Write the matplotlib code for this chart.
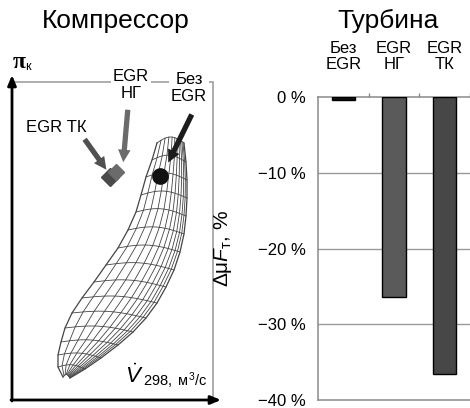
import numpy as np
import matplotlib
matplotlib.use("Agg")
import matplotlib.pyplot as plt
from matplotlib.patches import FancyArrowPatch, Rectangle
import matplotlib.transforms as mtransforms

plt.rcParams['font.family'] = ['Liberation Sans', 'DejaVu Sans']
plt.rcParams['mathtext.fontset'] = 'custom'
plt.rcParams['mathtext.rm'] = 'Liberation Sans'
plt.rcParams['mathtext.it'] = 'Liberation Sans:italic'

# ---- turbine bar data (%)
categories = ['Без\nEGR', 'EGR\nНГ', 'EGR\nТК']
dmuF = [-0.3, -26.4, -36.6]
bar_colors = ['#111111', '#5a5a5a', '#474747']
yticks = [0, -10, -20, -30, -40]
ytick_labels = ['0 %', '\u221210 %', '\u221220 %', '\u221230 %', '\u221240 %']

# ---- compressor map (schematic units: V flow -> x, pi_k -> y)
# surge side and choke side of the map, one pair per speed line
surge_x = [145, 140, 134, 129, 124, 116, 106, 94, 82, 70, 60, 53, 49, 46, 46, 51]
surge_y = [257, 240, 223, 205, 188, 170, 152, 135, 118, 102, 87, 72, 58, 45, 33, 23]
choke_x = [172, 174, 175, 175, 174, 172, 168, 162, 154, 145, 134, 121, 106, 89, 73, 58]
choke_y = [257, 238, 220, 202, 184, 166, 148, 130, 113, 97, 82, 68, 55, 42, 31, 22]
# relative position of the long lines across the map
long_s = [0.15, 0.3, 0.44, 0.56, 0.66, 0.74, 0.81, 0.87, 0.92, 0.96]

# operating points
op_names = ['Без EGR', 'EGR НГ', 'EGR ТК']
op_x = [148, 104, 98]
op_y = [224, 228, 223]

# arrows: (start, end)
arr_start = [(181, 288), (116, 293), (71, 263)]
arr_end = [(155, 235), (111, 235), (96, 228)]
arr_colors = ['#1c1c1c', '#6b6b6b', '#505050']

fig = plt.figure(figsize=(4.7, 4.08), dpi=100)

# ================= compressor =================
axL = fig.add_axes([0, 0, 240 / 470, 1])
axL.set_xlim(-12, 228)
axL.set_ylim(-8, 400)
axL.axis('off')

# frame
axL.add_patch(Rectangle((0, 0), 201, 318, fill=False, ec='#a0a0a0', lw=1.2, zorder=1))
# axes arrows
axL.annotate('', xy=(0, 325), xytext=(0, -1),
             arrowprops=dict(arrowstyle='-|>,head_width=0.25,head_length=0.6',
                             lw=2, color='black', shrinkA=0, shrinkB=0), zorder=5)
axL.annotate('', xy=(209, 0), xytext=(-1, 0),
             arrowprops=dict(arrowstyle='-|>,head_width=0.25,head_length=0.6',
                             lw=2, color='black', shrinkA=0, shrinkB=0), zorder=5)

sx = np.array(surge_x, float); sy = np.array(surge_y, float)
cx = np.array(choke_x, float); cy = np.array(choke_y, float)
s = np.linspace(0, 1, 25)
bulge = 6
# speed lines
for i in range(len(sx)):
    xs = sx[i] + s * (cx[i] - sx[i])
    ys = sy[i] + s * (cy[i] - sy[i]) + bulge * np.sin(np.pi * s) * (1 - i / 30)
    axL.plot(xs, ys, color='#444444', lw=0.6, zorder=2)
# long lines
for k in [0.0] + long_s + [1.0]:
    xs = sx + k * (cx - sx)
    ys = sy + k * (cy - sy) + bulge * np.sin(np.pi * k) * (1 - np.arange(len(sx)) / 30)
    lw = 0.9 if k in (0.0, 1.0) else 0.6
    axL.plot(xs, ys, color='#444444', lw=lw, zorder=2)

# operating points
axL.plot(op_x[2], op_y[2], marker='D', ms=9, color='#4a4a4a', zorder=4)
axL.plot(op_x[1], op_y[1], marker='D', ms=8, color='#6b6b6b', zorder=4)
axL.plot(op_x[0], op_y[0], marker='o', ms=11, color='#111111', zorder=4)

for (x0, y0), (x1, y1), c in zip(arr_start, arr_end, arr_colors):
    axL.add_patch(FancyArrowPatch((x0, y0), (x1, y1),
                                  arrowstyle='simple,head_length=0.9,head_width=0.9,tail_width=0.38',
                                  mutation_scale=10, color=c, lw=0, zorder=6))

lab_kw = dict(ha='center', va='center', fontsize=12, linespacing=1.1, zorder=7,
              bbox=dict(fc='white', ec='none', pad=1.5))
axL.text(44, 273, 'EGR ТК', **lab_kw)
axL.text(119, 315, 'EGR\nНГ', **lab_kw)
axL.text(177, 312, 'Без\nEGR', **lab_kw)

axL.text(1, 338, 'π', family='Liberation Serif', fontweight='bold', fontsize=17,
         ha='left', va='center')
axL.text(13, 333, 'к', fontsize=9, ha='left', va='center')

axL.text(113, 17, r'$\dot{V}$', fontsize=16, ha='left', va='baseline')
axL.text(131, 14, r'$\mathrm{298,\ м^{3}/с}$', fontsize=10.5, ha='left', va='baseline')

fig.text(116 / 470, 1 - 21 / 408, 'Компрессор', ha='center', va='center', fontsize=19)

# ================= turbine =================
axR = fig.add_axes([318 / 470, 8 / 408, 152 / 470, 302.5 / 408])
xpos = np.arange(len(categories))
axR.bar(xpos, dmuF, width=0.46, color=bar_colors, edgecolor='black', lw=1, zorder=3)
axR.set_xlim(-0.5, 2.5)
axR.set_ylim(-40, 0)
axR.set_yticks(yticks)
axR.set_yticklabels(ytick_labels, fontsize=12)
axR.tick_params(axis='y', length=0, pad=9)
for v in yticks[1:-1]:
    axR.axhline(v, color='#9a9a9a', lw=1, zorder=1)
axR.xaxis.set_ticks_position('top')
axR.set_xticks([0.5, 1.5, 2.5])
axR.set_xticklabels([])
axR.tick_params(axis='x', length=3, color='#8a8a8a', width=1)
for side in ['left', 'top', 'bottom']:
    axR.spines[side].set_color('#8a8a8a')
    axR.spines[side].set_linewidth(1.1)
axR.spines['right'].set_visible(False)

trans = mtransforms.blended_transform_factory(axR.transData, axR.transAxes)
for x, lab in zip(xpos, categories):
    axR.text(x, 1.135, lab, transform=trans, ha='center', va='center',
             fontsize=12, linespacing=1.1)

axR.set_ylabel('Δμ$F_{\\mathrm{т}}$, %', fontsize=15)
axR.yaxis.set_label_coords(-0.55, 0.5)

fig.text(388 / 470, 1 - 21 / 408, 'Турбина', ha='center', va='center', fontsize=19)

fig.savefig('out.png', dpi=100)
